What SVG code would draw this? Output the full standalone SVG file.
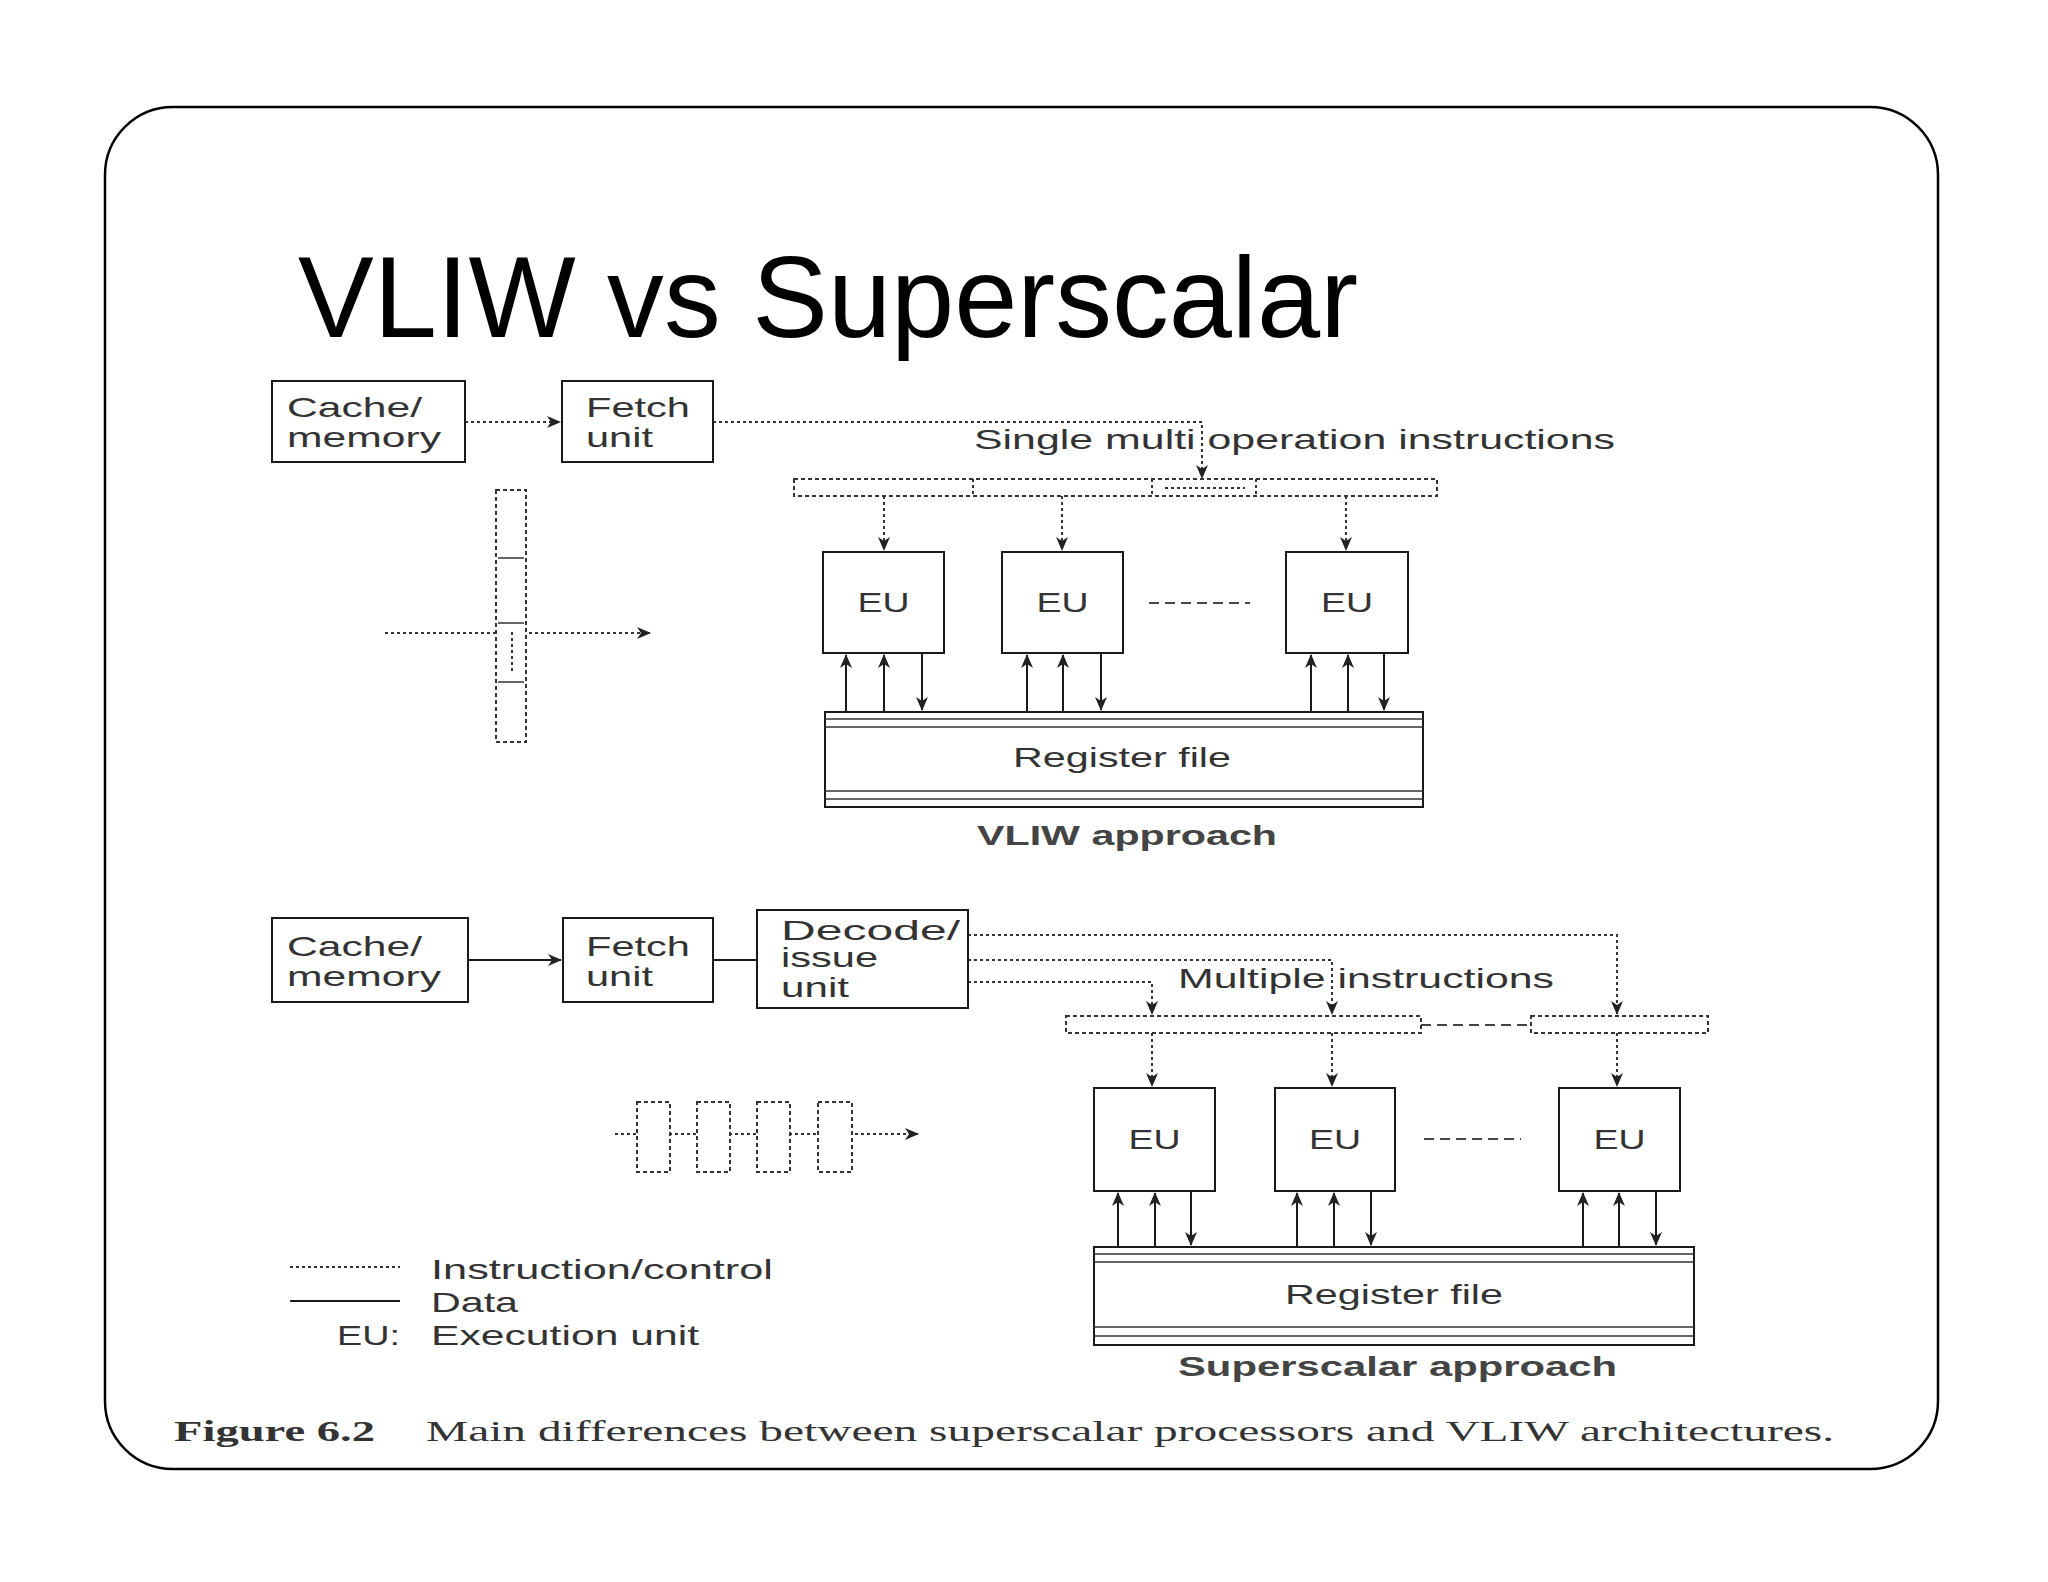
<svg xmlns="http://www.w3.org/2000/svg" width="2048" height="1582" viewBox="0 0 2048 1582">
<defs>
<marker id="ah" viewBox="0 0 14 12" refX="13" refY="6" markerWidth="14" markerHeight="12" markerUnits="userSpaceOnUse" orient="auto"><path d="M0,0 L14,6 L0,12 L4,6 z" fill="#222"/></marker>
</defs>
<style>
.box{fill:#fff;stroke:#1a1a1a;stroke-width:2}
.dbox{fill:#fff;stroke:#333;stroke-width:2;stroke-dasharray:4 3}
.dot{fill:none;stroke:#333;stroke-width:2;stroke-dasharray:3 3}
.dash{fill:none;stroke:#444;stroke-width:2;stroke-dasharray:10 6}
.solid{fill:none;stroke:#1a1a1a;stroke-width:2}
.thin{fill:none;stroke:#333;stroke-width:1.5}
.lbl{font-family:"Liberation Sans",Arial,sans-serif;font-size:28px;fill:#333}
.bold{font-weight:bold;fill:#444}
.title{font-family:"Liberation Sans",Arial,sans-serif;font-size:115px;fill:#000}
.cap{font-family:"Liberation Serif","Times New Roman",serif;font-size:29px;fill:#333}
</style>
<rect x="105" y="107" width="1833" height="1362" rx="68" ry="68" fill="#fff" stroke="#000" stroke-width="2.5"/>
<text class="title" x="298" y="337" textLength="1060" lengthAdjust="spacingAndGlyphs">VLIW vs Superscalar</text>

<g id="connectors">
<path class="dot" d="M465,422 H560" marker-end="url(#ah)"/>
<path class="dot" d="M713,422 H1202 V478" marker-end="url(#ah)"/>
<path class="dot" d="M884,496 V550" marker-end="url(#ah)"/>
<path class="dot" d="M1062,496 V550" marker-end="url(#ah)"/>
<path class="dot" d="M1346,496 V550" marker-end="url(#ah)"/>
<path class="dash" d="M1149,603 H1250"/>
<path class="solid" d="M846,712 V655" marker-end="url(#ah)"/>
<path class="solid" d="M884,712 V655" marker-end="url(#ah)"/>
<path class="solid" d="M922,653 V710" marker-end="url(#ah)"/>
<path class="solid" d="M1027,712 V655" marker-end="url(#ah)"/>
<path class="solid" d="M1063,712 V655" marker-end="url(#ah)"/>
<path class="solid" d="M1101,653 V710" marker-end="url(#ah)"/>
<path class="solid" d="M1311,712 V655" marker-end="url(#ah)"/>
<path class="solid" d="M1348,712 V655" marker-end="url(#ah)"/>
<path class="solid" d="M1384,653 V710" marker-end="url(#ah)"/>
<path class="dot" d="M385,633 H650" marker-end="url(#ah)"/>
<path class="solid" d="M468,960 H561" marker-end="url(#ah)"/>
<path class="solid" d="M713,960 H757"/>
<path class="dot" d="M968,935 H1617 V1014" marker-end="url(#ah)"/>
<path class="dot" d="M968,960 H1332 V1014" marker-end="url(#ah)"/>
<path class="dot" d="M968,982 H1152 V1014" marker-end="url(#ah)"/>
<path class="dash" d="M1421,1025 H1531"/>
<path class="dot" d="M1152,1033 V1086" marker-end="url(#ah)"/>
<path class="dot" d="M1332,1033 V1086" marker-end="url(#ah)"/>
<path class="dot" d="M1617,1033 V1086" marker-end="url(#ah)"/>
<path class="dash" d="M1424,1139 H1521"/>
<path class="solid" d="M1118,1247 V1193" marker-end="url(#ah)"/>
<path class="solid" d="M1155,1247 V1193" marker-end="url(#ah)"/>
<path class="solid" d="M1191,1191 V1245" marker-end="url(#ah)"/>
<path class="solid" d="M1297,1247 V1193" marker-end="url(#ah)"/>
<path class="solid" d="M1334,1247 V1193" marker-end="url(#ah)"/>
<path class="solid" d="M1371,1191 V1245" marker-end="url(#ah)"/>
<path class="solid" d="M1583,1247 V1193" marker-end="url(#ah)"/>
<path class="solid" d="M1619,1247 V1193" marker-end="url(#ah)"/>
<path class="solid" d="M1656,1191 V1245" marker-end="url(#ah)"/>
<path class="dot" d="M615,1134 H918" marker-end="url(#ah)"/>
</g>

<g id="vliw-cache"><rect class="box" x="272" y="381" width="193" height="81"/>
<text class="lbl" x="287" y="417" textLength="135" lengthAdjust="spacingAndGlyphs">Cache/</text>
<text class="lbl" x="287" y="447" textLength="154" lengthAdjust="spacingAndGlyphs">memory</text></g>
<g id="vliw-fetch"><rect class="box" x="562" y="381" width="151" height="81"/>
<text class="lbl" x="586" y="417" textLength="104" lengthAdjust="spacingAndGlyphs">Fetch</text>
<text class="lbl" x="586" y="447" textLength="67" lengthAdjust="spacingAndGlyphs">unit</text></g>
<text class="lbl" x="974" y="449" textLength="641" lengthAdjust="spacingAndGlyphs">Single multi operation instructions</text>
<g id="vliw-word">
<rect class="dbox" x="794" y="479" width="643" height="17" style="fill:none"/>
<path class="dot" d="M973,479 V496 M1152,479 V496 M1256,479 V496 M1165,488 H1245"/>
</g>
<g id="vliw-eu1"><rect class="box" x="823" y="552" width="121" height="101"/><text class="lbl" x="857.5" y="612" textLength="52" lengthAdjust="spacingAndGlyphs">EU</text></g>
<g id="vliw-eu2"><rect class="box" x="1002" y="552" width="121" height="101"/><text class="lbl" x="1036.5" y="612" textLength="52" lengthAdjust="spacingAndGlyphs">EU</text></g>
<g id="vliw-eu3"><rect class="box" x="1286" y="552" width="122" height="101"/><text class="lbl" x="1321" y="612" textLength="52" lengthAdjust="spacingAndGlyphs">EU</text></g>
<g id="vliw-regfile"><rect class="box" x="825" y="712" width="598" height="95"/>
<path class="thin" d="M825,719 H1423 M825,727 H1423 M825,791 H1423 M825,799 H1423"/>
<text class="lbl" x="1013" y="767" textLength="218" lengthAdjust="spacingAndGlyphs">Register file</text></g>
<text class="lbl bold" x="977" y="845" textLength="300" lengthAdjust="spacingAndGlyphs">VLIW approach</text>
<g id="vliw-instr-column">
<rect class="dbox" x="496" y="490" width="30" height="252"/>
<path class="thin" d="M498,558 H524 M498,623 H524 M498,682 H524"/>
<path class="dot" d="M512,632 V673"/>
</g>

<g id="ss-cache"><rect class="box" x="272" y="918" width="196" height="84"/>
<text class="lbl" x="287" y="956" textLength="135" lengthAdjust="spacingAndGlyphs">Cache/</text>
<text class="lbl" x="287" y="986" textLength="154" lengthAdjust="spacingAndGlyphs">memory</text></g>
<g id="ss-fetch"><rect class="box" x="563" y="918" width="150" height="84"/>
<text class="lbl" x="586" y="956" textLength="104" lengthAdjust="spacingAndGlyphs">Fetch</text>
<text class="lbl" x="586" y="986" textLength="67" lengthAdjust="spacingAndGlyphs">unit</text></g>
<g id="ss-decode"><rect class="box" x="757" y="910" width="211" height="98"/>
<text class="lbl" x="781" y="940" textLength="179" lengthAdjust="spacingAndGlyphs">Decode/</text>
<text class="lbl" x="781" y="967" textLength="97" lengthAdjust="spacingAndGlyphs">issue</text>
<text class="lbl" x="781" y="997" textLength="68" lengthAdjust="spacingAndGlyphs">unit</text></g>
<text class="lbl" x="1178" y="988" textLength="376" lengthAdjust="spacingAndGlyphs">Multiple instructions</text>
<g id="ss-buffer1"><rect class="dbox" x="1066" y="1016" width="355" height="17" style="fill:none"/></g>
<g id="ss-buffer2"><rect class="dbox" x="1531" y="1016" width="177" height="17" style="fill:none"/></g>
<g id="ss-eu1"><rect class="box" x="1094" y="1088" width="121" height="103"/><text class="lbl" x="1128.5" y="1149" textLength="52" lengthAdjust="spacingAndGlyphs">EU</text></g>
<g id="ss-eu2"><rect class="box" x="1275" y="1088" width="120" height="103"/><text class="lbl" x="1309" y="1149" textLength="52" lengthAdjust="spacingAndGlyphs">EU</text></g>
<g id="ss-eu3"><rect class="box" x="1559" y="1088" width="121" height="103"/><text class="lbl" x="1593.5" y="1149" textLength="52" lengthAdjust="spacingAndGlyphs">EU</text></g>
<g id="ss-regfile"><rect class="box" x="1094" y="1247" width="600" height="98"/>
<path class="thin" d="M1094,1254 H1694 M1094,1262 H1694 M1094,1327 H1694 M1094,1336 H1694"/>
<text class="lbl" x="1285" y="1304" textLength="218" lengthAdjust="spacingAndGlyphs">Register file</text></g>
<text class="lbl bold" x="1178" y="1376" textLength="439" lengthAdjust="spacingAndGlyphs">Superscalar approach</text>
<g id="ss-instr-stream">
<rect class="dbox" x="637" y="1102" width="33" height="70"/>
<rect class="dbox" x="697" y="1102" width="33" height="70"/>
<rect class="dbox" x="757" y="1102" width="33" height="70"/>
<rect class="dbox" x="818" y="1102" width="34" height="70"/>
</g>

<g id="legend">
<path class="dot" d="M290,1267 H400"/>
<text class="lbl" x="431" y="1279" textLength="342" lengthAdjust="spacingAndGlyphs">Instruction/control</text>
<path class="solid" d="M290,1301 H400"/>
<text class="lbl" x="431" y="1312" textLength="87" lengthAdjust="spacingAndGlyphs">Data</text>
<text class="lbl" x="337" y="1345" textLength="63" lengthAdjust="spacingAndGlyphs">EU:</text>
<text class="lbl" x="431" y="1345" textLength="268" lengthAdjust="spacingAndGlyphs">Execution unit</text>
</g>

<text class="cap" x="174" y="1441" font-weight="bold" textLength="201" lengthAdjust="spacingAndGlyphs">Figure 6.2</text>
<text class="cap" x="426" y="1441" textLength="1408" lengthAdjust="spacingAndGlyphs">Main differences between superscalar processors and VLIW architectures.</text>
</svg>
